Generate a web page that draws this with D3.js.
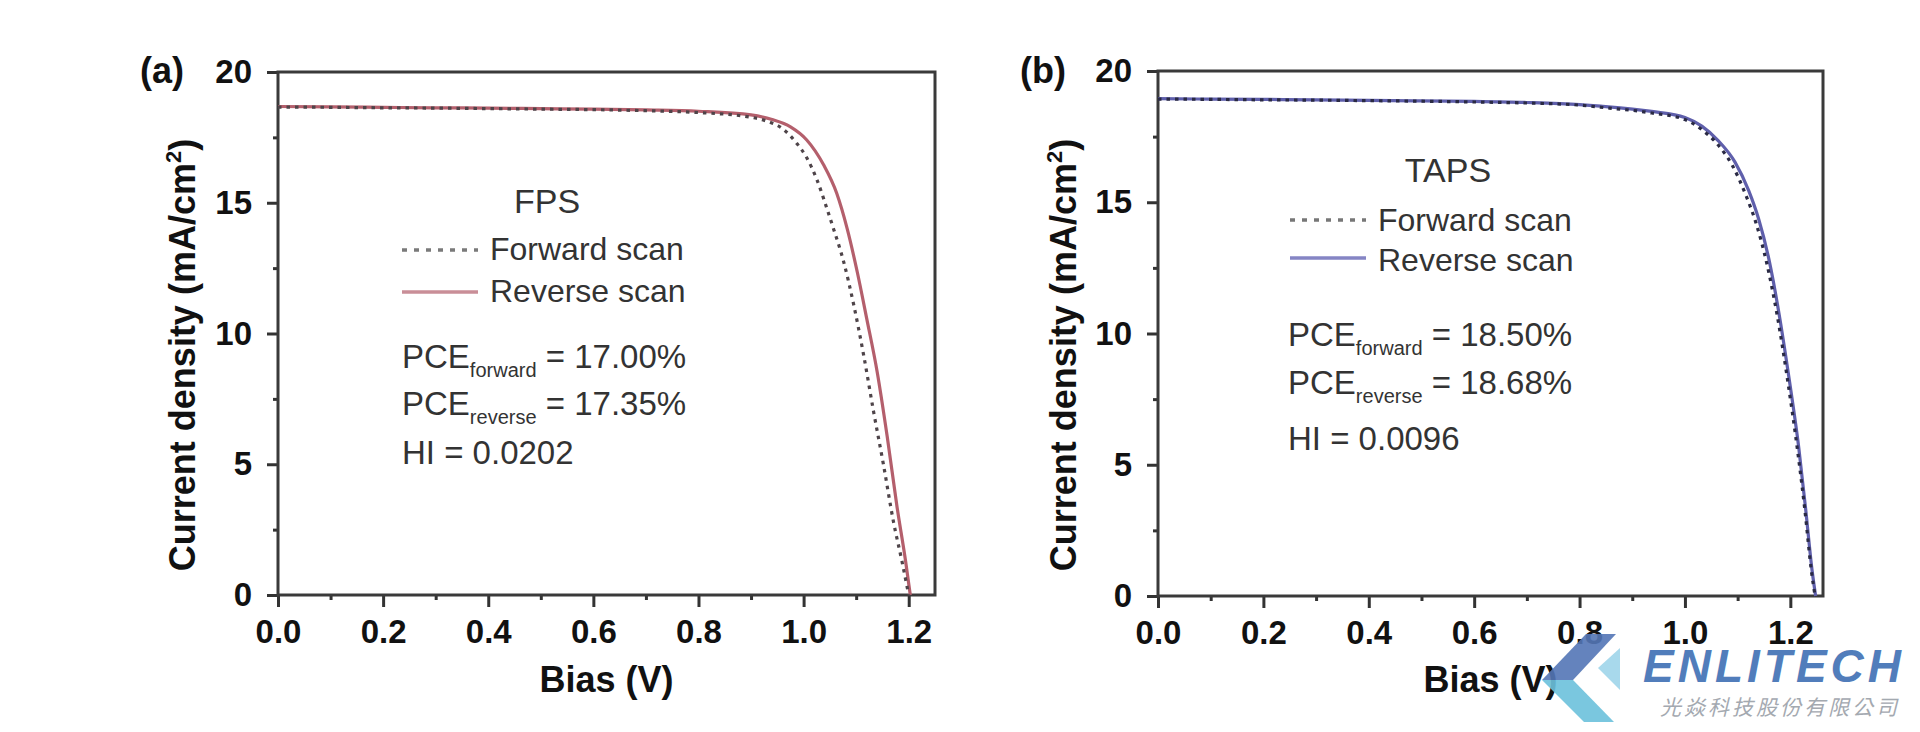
<!DOCTYPE html>
<html>
<head>
<meta charset="utf-8">
<script src="https://cdn.jsdelivr.net/npm/d3@7"></script>
<style>
  html, body { margin: 0; padding: 0; background: #fff; }
  svg { display: block; }
  text { font-family: "Liberation Sans", Arial, sans-serif; }
</style>
</head>
<body>
<svg id="chart" width="1920" height="732"></svg>
<script>
// ---------------- DATA ----------------
const xTicks = [0.0, 0.2, 0.4, 0.6, 0.8, 1.0, 1.2];
const xMinorTicks = [0.1, 0.3, 0.5, 0.7, 0.9, 1.1];
const yTicks = [0, 5, 10, 15, 20];
const yMinorTicks = [2.5, 7.5, 12.5, 17.5];

// Panel (a) FPS
const fpsRevV = [0, 0.1, 0.2, 0.3, 0.4, 0.5, 0.6, 0.7, 0.8, 0.9, 0.94, 0.975, 1.006, 1.038, 1.063, 1.083, 1.102, 1.12, 1.14, 1.159, 1.178, 1.194, 1.203];
const fpsRevJ = [18.68, 18.67, 18.65, 18.63, 18.62, 18.6, 18.58, 18.55, 18.5, 18.36, 18.18, 17.9, 17.4, 16.45, 15.36, 14.0, 12.36, 10.58, 8.53, 6.07, 3.34, 1.3, 0];
const fpsFwdV = [0, 0.1, 0.2, 0.3, 0.4, 0.5, 0.6, 0.7, 0.8, 0.9, 0.93, 0.962, 0.987, 1.006, 1.025, 1.044, 1.057, 1.076, 1.095, 1.114, 1.133, 1.152, 1.171, 1.187, 1.2];
const fpsFwdJ = [18.66, 18.65, 18.63, 18.62, 18.6, 18.58, 18.56, 18.52, 18.45, 18.27, 18.12, 17.8, 17.27, 16.72, 15.9, 14.8, 14.0, 12.76, 11.13, 9.2, 7.03, 4.98, 2.8, 1.3, 0];

// Panel (b) TAPS
const tapsRevV = [0, 0.1, 0.2, 0.3, 0.4, 0.5, 0.6, 0.7, 0.8, 0.84, 0.937, 1.0, 1.032, 1.063, 1.095, 1.121, 1.14, 1.159, 1.178, 1.197, 1.216, 1.229, 1.241, 1.248];
const tapsRevJ = [18.95, 18.93, 18.92, 18.9, 18.88, 18.86, 18.84, 18.8, 18.72, 18.66, 18.46, 18.23, 17.9, 17.35, 16.53, 15.44, 14.35, 12.86, 10.82, 8.37, 5.65, 3.33, 1.02, 0];
const tapsFwdV = [0, 0.1, 0.2, 0.3, 0.4, 0.5, 0.6, 0.7, 0.8, 0.84, 0.937, 1.0, 1.03, 1.06, 1.09, 1.115, 1.135, 1.155, 1.175, 1.195, 1.214, 1.228, 1.24, 1.247];
const tapsFwdJ = [18.93, 18.92, 18.9, 18.89, 18.87, 18.85, 18.82, 18.78, 18.7, 18.62, 18.4, 18.15, 17.8, 17.25, 16.4, 15.3, 14.2, 12.7, 10.7, 8.2, 5.5, 3.2, 0.95, 0];

const panelLabels = ["(a)", "(b)"];
const sampleNames = ["FPS", "TAPS"];
const legendNames = ["Forward scan", "Reverse scan"];
const pceForward = ["17.00%", "18.50%"];
const pceReverse = ["17.35%", "18.68%"];
const hiValues = ["0.0202", "0.0096"];
const xTitle = "Bias (V)";

// ---------------- DRAW ----------------
const svg = d3.select("#chart");

function zip(v, j) { return v.map((d, i) => ({ v: d, j: j[i] })); }

const panels = [
  { idx: 0, left: 278, right: 935, top: 72, bottom: 595, xmax: 1.25,
    fwd: zip(fpsFwdV, fpsFwdJ), rev: zip(fpsRevV, fpsRevJ),
    revColor: "#b45f6c", fwdColor: "#4e4449", legFwdColor: "#7a7a7a", legRevColor: "#c98e97",
    labelX: 140, ytitleX: 195,
    nameX: 547, nameY: 213, lineX1: 402, lineX2: 478, fwdLineY: 250, revLineY: 292,
    legTextX: 490, fwdTextY: 260, revTextY: 302,
    pceX: 402, pce1Y: 368, pce2Y: 415, hiY: 464 },
  { idx: 1, left: 1158, right: 1823, top: 71, bottom: 596, xmax: 1.262,
    fwd: zip(tapsFwdV, tapsFwdJ), rev: zip(tapsRevV, tapsRevJ),
    revColor: "#5f5fab", fwdColor: "#2a2a44", legFwdColor: "#777", legRevColor: "#8585c4",
    labelX: 1020, ytitleX: 1076,
    nameX: 1448, nameY: 182, lineX1: 1290, lineX2: 1366, fwdLineY: 220, revLineY: 258,
    legTextX: 1378, fwdTextY: 231, revTextY: 271,
    pceX: 1288, pce1Y: 346, pce2Y: 394, hiY: 450 }
];

panels.forEach(p => {
  const g = svg.append("g");
  const x = d3.scaleLinear().domain([0, p.xmax]).range([p.left, p.right]);
  const y = d3.scaleLinear().domain([0, 20]).range([p.bottom, p.top]);

  // minor ticks
  g.append("g").attr("transform", `translate(0,${p.bottom})`)
    .call(d3.axisBottom(x).tickValues(xMinorTicks).tickSize(5).tickSizeOuter(0).tickFormat(""))
    .call(a => a.select(".domain").remove())
    .call(a => a.selectAll("line").attr("stroke", "#333").attr("stroke-width", 3));
  g.append("g").attr("transform", `translate(${p.left},0)`)
    .call(d3.axisLeft(y).tickValues(yMinorTicks).tickSize(5).tickSizeOuter(0).tickFormat(""))
    .call(a => a.select(".domain").remove())
    .call(a => a.selectAll("line").attr("stroke", "#333").attr("stroke-width", 3));

  // major axes
  const xa = g.append("g").attr("transform", `translate(0,${p.bottom})`)
    .call(d3.axisBottom(x).tickValues(xTicks).tickSize(12).tickPadding(13).tickSizeOuter(0).tickFormat(d3.format(".1f")));
  const ya = g.append("g").attr("transform", `translate(${p.left},0)`)
    .call(d3.axisLeft(y).tickValues(yTicks).tickSize(11).tickPadding(15).tickSizeOuter(0).tickFormat(d3.format("d")));
  [xa, ya].forEach(a => {
    a.select(".domain").remove();
    a.selectAll("line").attr("stroke", "#333").attr("stroke-width", 3);
    a.selectAll("text").attr("font-size", 33).attr("font-weight", "bold").attr("fill", "#111")
      .style("font-family", '"Liberation Sans", Arial, sans-serif');
  });

  // frame
  g.append("rect").attr("x", p.left).attr("y", p.top)
    .attr("width", p.right - p.left).attr("height", p.bottom - p.top)
    .attr("fill", "none").attr("stroke", "#3a3a3a").attr("stroke-width", 3);

  // curves
  const line = d3.line().x(d => x(d.v)).y(d => y(d.j)).curve(d3.curveMonotoneX);
  g.append("path").datum(p.rev).attr("d", line)
    .attr("fill", "none").attr("stroke", p.revColor).attr("stroke-width", 3.2);
  g.append("path").datum(p.fwd).attr("d", line)
    .attr("fill", "none").attr("stroke", p.fwdColor).attr("stroke-width", 3.2)
    .attr("stroke-dasharray", "3.5,5");

  // panel label
  svg.append("text").attr("x", p.labelX).attr("y", 83)
    .attr("font-size", 36).attr("font-weight", "bold").attr("fill", "#111").text(panelLabels[p.idx]);

  // axis titles
  svg.append("text").attr("x", (p.left + p.right) / 2).attr("y", 692)
    .attr("text-anchor", "middle").attr("font-size", 36).attr("font-weight", "bold").attr("fill", "#111")
    .text(xTitle);
  const yt = svg.append("text")
    .attr("transform", `translate(${p.ytitleX},355) rotate(-90)`)
    .attr("text-anchor", "middle").attr("font-size", 36).attr("font-weight", "bold").attr("fill", "#111");
  yt.append("tspan").text("Current density (mA/cm");
  yt.append("tspan").attr("font-size", 22).attr("dy", -14).text("2");
  yt.append("tspan").attr("dy", 14).text(")");

  // legend / annotation
  const tc = "#333";
  svg.append("text").attr("x", p.nameX).attr("y", p.nameY).attr("text-anchor", "middle")
    .attr("font-size", 34).attr("fill", tc).text(sampleNames[p.idx]);
  svg.append("line").attr("x1", p.lineX1).attr("x2", p.lineX2).attr("y1", p.fwdLineY).attr("y2", p.fwdLineY)
    .attr("stroke", p.legFwdColor).attr("stroke-width", 3.5).attr("stroke-dasharray", "5,7");
  svg.append("line").attr("x1", p.lineX1).attr("x2", p.lineX2).attr("y1", p.revLineY).attr("y2", p.revLineY)
    .attr("stroke", p.legRevColor).attr("stroke-width", 3.5);
  svg.append("text").attr("x", p.legTextX).attr("y", p.fwdTextY).attr("font-size", 32).attr("fill", tc).text(legendNames[0]);
  svg.append("text").attr("x", p.legTextX).attr("y", p.revTextY).attr("font-size", 32).attr("fill", tc).text(legendNames[1]);

  function pce(yPos, sub, val) {
    const t = svg.append("text").attr("x", p.pceX).attr("y", yPos).attr("font-size", 33).attr("fill", tc);
    t.append("tspan").text("PCE");
    t.append("tspan").attr("font-size", 20).attr("dy", 9).text(sub);
    t.append("tspan").attr("dy", -9).text(" = " + val);
  }
  pce(p.pce1Y, "forward", pceForward[p.idx]);
  pce(p.pce2Y, "reverse", pceReverse[p.idx]);
  svg.append("text").attr("x", p.pceX).attr("y", p.hiY).attr("font-size", 33).attr("fill", tc)
    .text("HI = " + hiValues[p.idx]);
});

// ---------------- WATERMARK LOGO ----------------
const logo = svg.append("g").attr("opacity", 0.9);
logo.append("polygon").attr("points", "1586,634 1616,634 1573,680 1542,680").attr("fill", "#5476b6");
logo.append("polygon").attr("points", "1542,680 1573,680 1614,722 1584,722").attr("fill", "#6cc2dc");
logo.append("polygon").attr("points", "1598,668 1620,648 1620,690").attr("fill", "#9fd5ea");
logo.append("text").attr("x", 1643).attr("y", 682).attr("font-size", 46).attr("font-weight", "bold")
  .attr("font-style", "italic").attr("letter-spacing", 4).attr("fill", "#3f70b4").text("ENLITECH");
logo.append("text").attr("x", 1660).attr("y", 715).attr("font-size", 21).attr("font-style", "italic")
  .attr("letter-spacing", 3).attr("fill", "#9aa0a8")
  .style("font-family", '"Noto Sans CJK TC", "Noto Sans CJK SC", sans-serif').text("光焱科技股份有限公司");
</script>
</body>
</html>
